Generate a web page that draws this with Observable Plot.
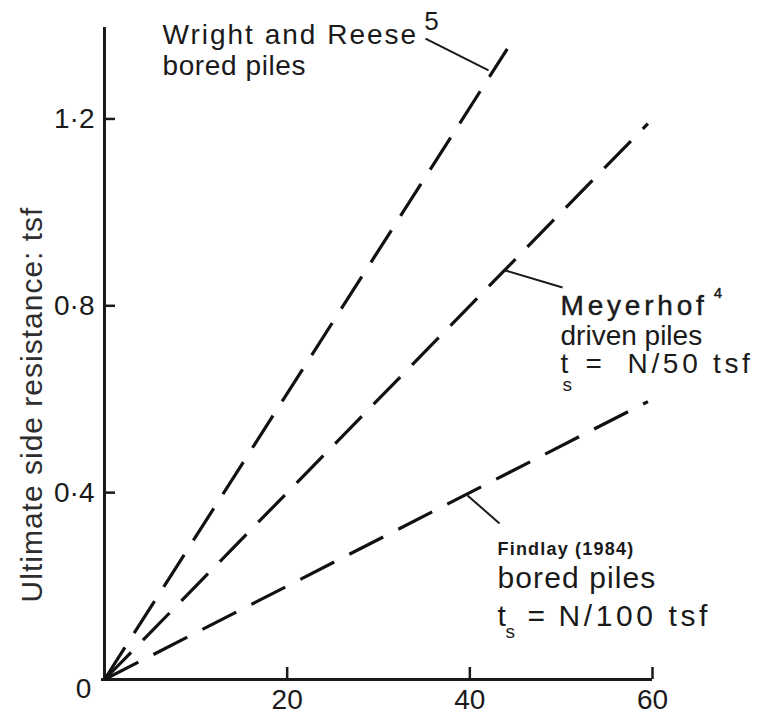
<!DOCTYPE html>
<html>
<head>
<meta charset="utf-8">
<script src="https://cdn.jsdelivr.net/npm/d3@7"></script>
<script src="https://cdn.jsdelivr.net/npm/@observablehq/plot@0.6"></script>
<style>
  body { margin: 0; background: #ffffff; }
  #chart svg { display: block; }
</style>
</head>
<body>
<div id="chart"></div>
<script>
// Ultimate side resistance t_s (tsf) against SPT blow count N for three design methods.
const pileMethods = ["Wright and Reese", "Meyerhof", "Findlay (1984)"];
const blowCountEnd = [44.1, 59.5, 59.5];        // N where each design line stops
const sideResistanceEnd = [1.35, 1.19, 0.595];  // t_s at that N (N/50 and N/100 for the last two)
const xTicks = [20, 40, 60];
const yTicks = [0.4, 0.8, 1.2];

// Each design line runs straight from the origin to its end point.
const lines = pileMethods.flatMap((method, i) => [
  {method, N: 0, ts: 0},
  {method, N: blowCountEnd[i], ts: sideResistanceEnd[i]}
]);

const font = "'Liberation Sans', Arial, Helvetica, sans-serif";
const ink = "#1a1a1a";

// Annotation pieces, anchored (start, cap top) in data units; ls = letter spacing (px).
const notes = [
  // Wright and Reese
  {text: "Wright and Reese", N: 6.35, ts: 1.402, size: 28, ls: 2},
  {text: "bored piles", N: 6.35, ts: 1.3356, size: 28, ls: 0.6},
  {text: "5", N: 35.0, ts: 1.43, size: 26, ls: 0},
  // Meyerhof
  {text: "Meyerhof", N: 49.93, ts: 0.822, size: 28, ls: 3.8, heavy: true},
  {text: "4", N: 66.7, ts: 0.839, size: 15, ls: 0, heavy: true},
  {text: "driven piles", N: 49.93, ts: 0.7576, size: 28, ls: 0},
  {text: "t", N: 49.93, ts: 0.6977, size: 28, ls: 0},
  {text: "s", N: 50.15, ts: 0.646, size: 19, ls: 0},
  {text: "=", N: 52.66, ts: 0.6977, size: 28, ls: 0},
  {text: "N/50 tsf", N: 57.26, ts: 0.6977, size: 28, ls: 3.7},
  // Findlay
  {text: "Findlay (1984)", N: 43.03, ts: 0.2933, size: 18, ls: 1.2, bold: true},
  {text: "bored piles", N: 43.03, ts: 0.2425, size: 30, ls: 1.1},
  {text: "t", N: 43.03, ts: 0.1612, size: 30, ls: 0},
  {text: "s", N: 43.9, ts: 0.117, size: 19, ls: 0},
  {text: "=", N: 46.31, ts: 0.1612, size: 30, ls: 0},
  {text: "N/100 tsf", N: 49.71, ts: 0.1612, size: 30, ls: 3.6}
];
const leaders = [
  {N1: 35.15, ts1: 1.372, N2: 42.05, ts2: 1.304},
  {N1: 43.9, ts1: 0.8755, N2: 50.15, ts2: 0.839},
  {N1: 39.75, ts1: 0.394, N2: 43.25, ts2: 0.334}
];

const fmt = d => d.toFixed(1).replace(".", "\u00b7");

const noteMark = (d, i) => Plot.text([d], {
  x: "N", y: "ts", text: "text", textAnchor: "start", lineAnchor: "top",
  fontSize: d.size, fontWeight: d.bold ? "bold" : "normal", fill: ink,
  stroke: d.heavy ? ink : null, strokeWidth: d.heavy ? 0.45 : null,
  ariaDescription: `note ${i}`
});

const chart = Plot.plot({
  width: 764,
  height: 718,
  marginLeft: 104,
  marginRight: 112,
  marginTop: 25,
  marginBottom: 39,
  style: {fontFamily: font, color: ink, background: "#ffffff", overflow: "visible"},
  x: {domain: [0, 60], label: null},
  y: {domain: [0, 1.4], label: null},
  marks: [
    // axis lines
    Plot.ruleY([0], {stroke: ink, strokeWidth: 3, insetLeft: -3}),
    Plot.ruleX([0], {stroke: ink, strokeWidth: 3, insetTop: 2}),
    // inward ticks with labels
    Plot.axisX(xTicks, {tickSize: -12, tickPadding: 22, fontSize: 28, stroke: ink, strokeWidth: 2.5, fill: ink, label: null}),
    Plot.axisY(yTicks, {tickSize: -11, tickPadding: 21, tickFormat: fmt, fontSize: 28, stroke: ink, strokeWidth: 2.5, fill: ink, label: null}),
    Plot.text(["0"], {x: 0, y: 0, dx: -21, dy: 10, fontSize: 28, fill: ink}),
    // y-axis title
    Plot.text(["Ultimate side resistance: tsf"], {
      frameAnchor: "left", textAnchor: "middle", dx: -72, dy: 52, rotate: -90,
      fontSize: 30, fill: "#2e2e2e", ariaDescription: "y title"
    }),
    // dashed design lines
    Plot.line(lines, {
      x: "N", y: "ts", z: "method",
      stroke: "#111", strokeWidth: 3.2, strokeDasharray: "38,17", strokeLinecap: "butt"
    }),
    // leader lines
    Plot.link(leaders, {x1: "N1", y1: "ts1", x2: "N2", y2: "ts2", stroke: ink, strokeWidth: 2}),
    // method labels
    ...notes.map(noteMark)
  ]
});

// The text mark has no tracking option, so set letter spacing on the rendered labels.
const track = (label, px) =>
  chart.querySelectorAll(`[aria-description="${label}"] text`).forEach(t => t.setAttribute("letter-spacing", `${px}px`));
notes.forEach((d, i) => track(`note ${i}`, d.ls));
track("y title", 1.0);

document.getElementById("chart").append(chart);
</script>
</body>
</html>
